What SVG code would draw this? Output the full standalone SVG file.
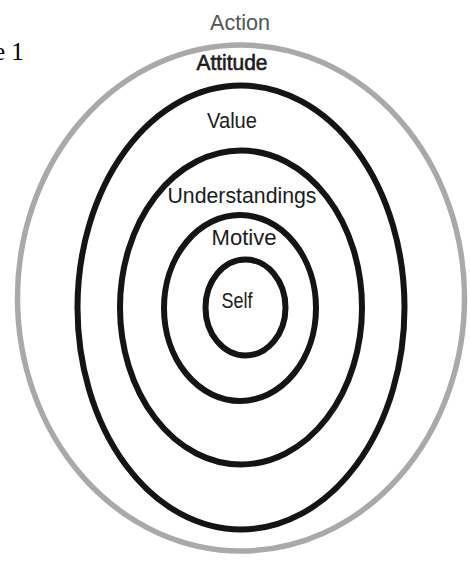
<svg xmlns="http://www.w3.org/2000/svg" width="470" height="561" viewBox="0 0 470 561">
  <style>
    .ring { fill: none; stroke: #141414; stroke-width: 6; }
    .outer { fill: none; stroke: #a9a9a9; stroke-width: 5.5; }
    .lbl { font-family: "Liberation Sans", Arial, sans-serif; font-size: 21.5px; fill: #1c1c1c; text-anchor: middle; }
    .cap { font-family: "Liberation Serif", "Times New Roman", serif; font-size: 25px; fill: #000; }
  </style>
  <rect width="470" height="561" fill="#ffffff"/>
  <text class="cap" x="-6" y="60">e 1</text>
  <g id="action">
    <ellipse class="outer" cx="241" cy="298" rx="223.5" ry="253"/>
    <text class="lbl" x="240" y="30" textLength="60" lengthAdjust="spacingAndGlyphs" style="fill:#555">Action</text>
  </g>
  <g id="attitude">
    <ellipse class="ring" cx="241" cy="307.5" rx="163.5" ry="222"/>
    <text class="lbl" x="232" y="70" textLength="71" lengthAdjust="spacingAndGlyphs" style="stroke:#1c1c1c;stroke-width:0.6">Attitude</text>
  </g>
  <g id="value">
    <ellipse class="ring" cx="241" cy="307.5" rx="121" ry="157"/>
    <text class="lbl" x="232" y="128" textLength="50" lengthAdjust="spacingAndGlyphs">Value</text>
  </g>
  <g id="understandings">
    <ellipse class="ring" cx="240" cy="308" rx="76" ry="93"/>
    <text class="lbl" x="242" y="203" textLength="149" lengthAdjust="spacingAndGlyphs">Understandings</text>
  </g>
  <g id="motive">
    <text class="lbl" x="244" y="245" textLength="65" lengthAdjust="spacingAndGlyphs">Motive</text>
  </g>
  <g id="self">
    <ellipse class="ring" cx="245.5" cy="307.5" rx="40" ry="48"/>
    <text class="lbl" x="237" y="308" textLength="31" lengthAdjust="spacingAndGlyphs">Self</text>
  </g>
</svg>
